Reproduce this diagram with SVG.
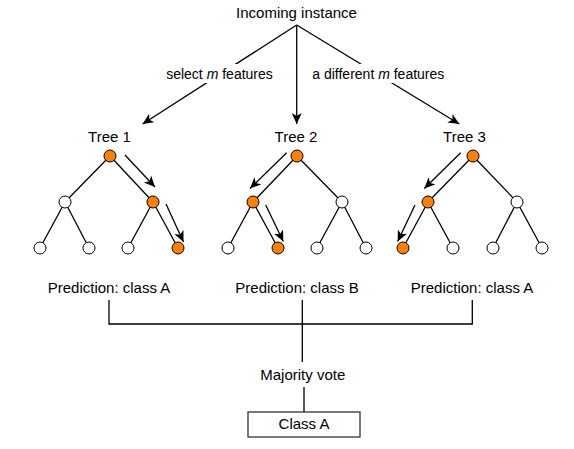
<svg xmlns="http://www.w3.org/2000/svg" width="574" height="449" viewBox="0 0 574 449">
<style>
text{font-family:"Liberation Sans",Arial,sans-serif;font-size:15px;fill:#000}
.c{text-anchor:middle}
.l{font-size:14px}
.e{stroke:#000;stroke-width:1.3;fill:none}
.a{stroke:#000;stroke-width:1.3;fill:none;marker-end:url(#ah)}
.w{fill:#fff;stroke:#000;stroke-width:1}
.o{fill:#ff8000;stroke:#000;stroke-width:1}
</style>
<defs>
<marker id="ah" markerUnits="userSpaceOnUse" markerWidth="14" markerHeight="12" refX="11" refY="5" orient="auto" viewBox="0 0 14 12">
<path d="M0,0 L11,5 L0,10 L3,5 z" fill="#000"/>
</marker>
</defs>
<g id="connectors">
<line class="a" x1="296.7" y1="25" x2="142.6" y2="124"/>
<line class="a" x1="296.7" y1="25" x2="296.7" y2="124"/>
<line class="a" x1="296.7" y1="25" x2="459.3" y2="124"/>
<line class="a" x1="125" y1="155" x2="155" y2="187"/>
<line class="a" x1="166" y1="204" x2="183.5" y2="242"/>
<line class="a" x1="286.7" y1="152.7" x2="250" y2="188.5"/>
<line class="a" x1="265.7" y1="205" x2="283.3" y2="241.5"/>
<line class="a" x1="460.7" y1="152.7" x2="424.3" y2="188.5"/>
<line class="a" x1="415" y1="205" x2="397.7" y2="241.5"/>
<polyline class="e" points="109,300 109,324 472.3,324 472.3,300"/>
<line class="e" x1="302.3" y1="300" x2="302.3" y2="362"/>
<line class="e" x1="304" y1="387" x2="304" y2="412"/>
</g>
<g id="label-select">
<rect x="167" y="64" width="105" height="19" fill="#fff"/>
<text class="c l" x="219.5" y="79">select <tspan font-style="italic">m</tspan> features</text>
</g>
<g id="label-different">
<rect x="313" y="64" width="130" height="19" fill="#fff"/>
<text class="c l" x="378.3" y="79">a different <tspan font-style="italic">m</tspan> features</text>
</g>
<g id="incoming"><text class="c" x="296.5" y="18.3">Incoming instance</text></g>
<g id="tree1">
<text class="c" x="109.5" y="141.7">Tree 1</text>
<g class="e">
<line x1="110" y1="156" x2="65" y2="202"/><line x1="110" y1="156" x2="153" y2="202"/>
<line x1="65" y1="202" x2="40" y2="248"/><line x1="65" y1="202" x2="89" y2="248"/>
<line x1="153" y1="202" x2="128" y2="248"/><line x1="153" y1="202" x2="178" y2="248"/>
</g>
<circle class="o" cx="110" cy="156" r="6"/>
<circle class="w" cx="65" cy="202" r="6"/><circle class="o" cx="153" cy="202" r="6"/>
<circle class="w" cx="40" cy="248" r="6"/><circle class="w" cx="89" cy="248" r="6"/>
<circle class="w" cx="128" cy="248" r="6"/><circle class="o" cx="178" cy="248" r="6"/>
</g>
<g id="tree2">
<text class="c" x="296" y="141.7">Tree 2</text>
<g class="e">
<line x1="297" y1="156" x2="253" y2="202"/><line x1="297" y1="156" x2="342" y2="202"/>
<line x1="253" y1="202" x2="228" y2="248"/><line x1="253" y1="202" x2="278" y2="248"/>
<line x1="342" y1="202" x2="317" y2="248"/><line x1="342" y1="202" x2="366" y2="248"/>
</g>
<circle class="o" cx="297" cy="156" r="6"/>
<circle class="o" cx="253" cy="202" r="6"/><circle class="w" cx="342" cy="202" r="6"/>
<circle class="w" cx="228" cy="248" r="6"/><circle class="o" cx="278" cy="248" r="6"/>
<circle class="w" cx="317" cy="248" r="6"/><circle class="w" cx="366" cy="248" r="6"/>
</g>
<g id="tree3">
<text class="c" x="464.5" y="141.7">Tree 3</text>
<g class="e">
<line x1="473" y1="156" x2="428" y2="202"/><line x1="473" y1="156" x2="517" y2="202"/>
<line x1="428" y1="202" x2="403" y2="248"/><line x1="428" y1="202" x2="453" y2="248"/>
<line x1="517" y1="202" x2="493" y2="248"/><line x1="517" y1="202" x2="542" y2="248"/>
</g>
<circle class="o" cx="473" cy="156" r="6"/>
<circle class="o" cx="428" cy="202" r="6"/><circle class="w" cx="517" cy="202" r="6"/>
<circle class="o" cx="403" cy="248" r="6"/><circle class="w" cx="453" cy="248" r="6"/>
<circle class="w" cx="493" cy="248" r="6"/><circle class="w" cx="542" cy="248" r="6"/>
</g>
<g id="pred1"><text class="c" x="109" y="292.7">Prediction: class A</text></g>
<g id="pred2"><text class="c" x="297" y="292.7">Prediction: class B</text></g>
<g id="pred3"><text class="c" x="472" y="292.7">Prediction: class A</text></g>
<g id="vote"><text class="c" x="302.8" y="380">Majority vote</text></g>
<g id="result">
<rect x="248" y="412" width="112" height="25" fill="#fff" stroke="#333" stroke-width="1.3"/>
<text class="c" x="304" y="429.3">Class A</text>
</g>
</svg>
